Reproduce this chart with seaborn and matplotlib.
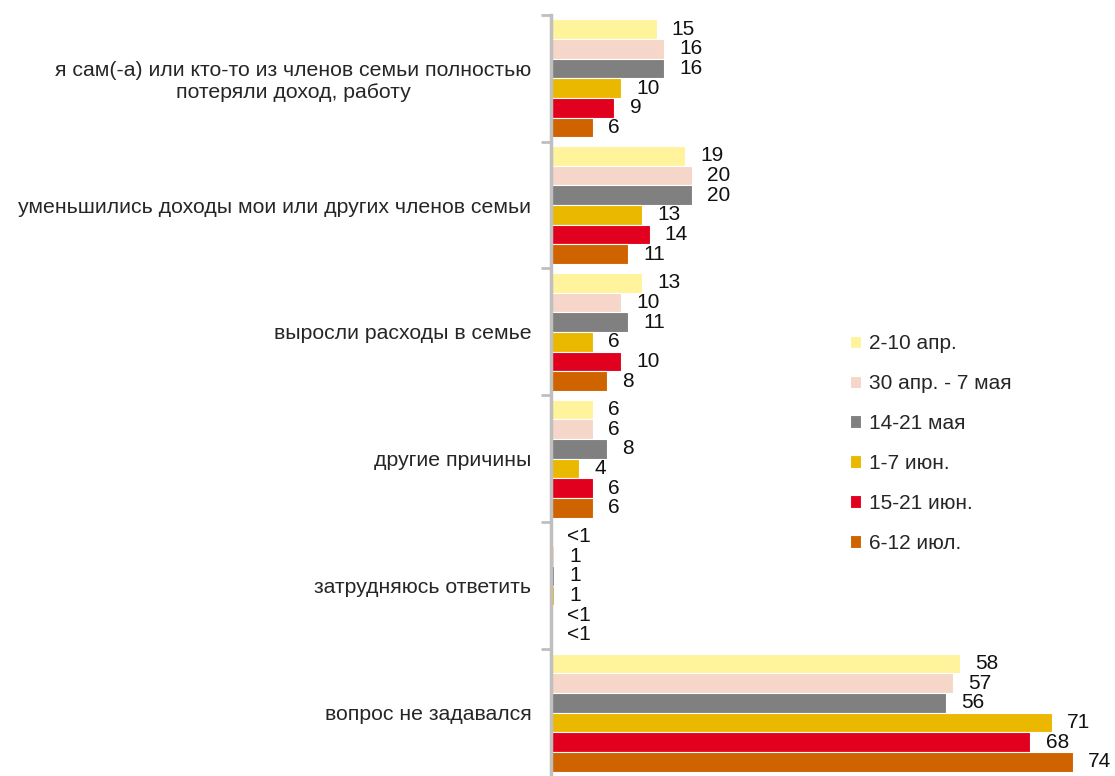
import pandas as pd
import matplotlib.pyplot as plt
import matplotlib.transforms as mtransforms
import seaborn as sns

# ------------------------------------------Data--------------------------------------------------- #
categories = [
    "я сам(-а) или кто-то из членов семьи полностью\nпотеряли доход, работу",
    "уменьшились доходы мои или других членов семьи",
    "выросли расходы в семье",
    "другие причины",
    "затрудняюсь ответить",
    "вопрос не задавался",
]
periods = ["2-10 апр.", "30 апр. - 7 мая", "14-21 мая", "1-7 июн.", "15-21 июн.", "6-12 июл."]

apr_2_10 = [15, 19, 13, 6, 0.1, 58]
apr30_may7 = [16, 20, 10, 6, 0.5, 57]
may_14_21 = [16, 20, 11, 8, 0.5, 56]
jun_1_7 = [10, 13, 6, 4, 0.5, 71]
jun_15_21 = [9, 14, 10, 6, 0.1, 68]
jul_6_12 = [6, 11, 8, 6, 0.1, 74]

# printed labels (small values shown as "<1")
apr_2_10_lbl = ["15", "19", "13", "6", "<1", "58"]
apr30_may7_lbl = ["16", "20", "10", "6", "1", "57"]
may_14_21_lbl = ["16", "20", "11", "8", "1", "56"]
jun_1_7_lbl = ["10", "13", "6", "4", "1", "71"]
jun_15_21_lbl = ["9", "14", "10", "6", "<1", "68"]
jul_6_12_lbl = ["6", "11", "8", "6", "<1", "74"]

colors = ["#FFF39B", "#F6D6C8", "#808080", "#EBB800", "#E2001F", "#CF6300"]

series = [apr_2_10, apr30_may7, may_14_21, jun_1_7, jun_15_21, jul_6_12]
labels = [apr_2_10_lbl, apr30_may7_lbl, may_14_21_lbl, jun_1_7_lbl, jun_15_21_lbl, jul_6_12_lbl]

rows = []
for period, vals in zip(periods, series):
    for cat, v in zip(categories, vals):
        rows.append({"Категория": cat, "Период": period, "Значение": v})
df = pd.DataFrame(rows)

# ------------------------------------------Plot--------------------------------------------------- #
sns.set_style("white")
plt.rcParams["font.family"] = ["Liberation Sans", "DejaVu Sans"]

fig = plt.figure(figsize=(11.15, 7.76), dpi=100)
ax = fig.add_axes([0.494, 0.0, 0.506, 0.981])

sns.barplot(data=df, y="Категория", x="Значение", hue="Период", orient="h",
            palette=colors, saturation=1, width=0.93, edgecolor="white", linewidth=0.8, ax=ax)

# value labels, nudged a little below the bar centre like in the original
shift = mtransforms.ScaledTranslation(0, -2.5 / 100, fig.dpi_scale_trans)
for cont, lbl in zip(ax.containers, labels):
    texts = ax.bar_label(cont, labels=lbl, padding=11, fontsize=15, color="#111111")
    for t in texts:
        t.set_transform(t.get_transform() + shift)

ax.set_xlim(0, 80)
ax.set_ylim(5.5, -0.5)
ax.set_xlabel("")
ax.set_ylabel("")
ax.set_xticks([])

# category labels, ticks at group boundaries
ax.set_yticks(range(len(categories)))
ax.set_yticklabels(categories, fontsize=15.3)
for t in ax.get_yticklabels():
    t.set_multialignment("center")
ax.tick_params(axis="y", which="major", length=0, pad=14)
ax.set_yticks([i - 0.5 for i in range(len(categories))], minor=True)
ax.tick_params(axis="y", which="minor", length=7, width=2, color="#BFBFBF", left=True)

for s in ["top", "right", "bottom"]:
    ax.spines[s].set_visible(False)
ax.spines["left"].set_color("#BFBFBF")
ax.spines["left"].set_linewidth(2.5)

ax.legend(loc="upper left", bbox_to_anchor=(0.762, 0.569), bbox_transform=fig.transFigure,
          frameon=False, fontsize=15, handlelength=0.55, handleheight=0.55, handletextpad=0.4,
          labelspacing=1.0, borderaxespad=0, borderpad=0)

fig.savefig("out.png", dpi=100)
